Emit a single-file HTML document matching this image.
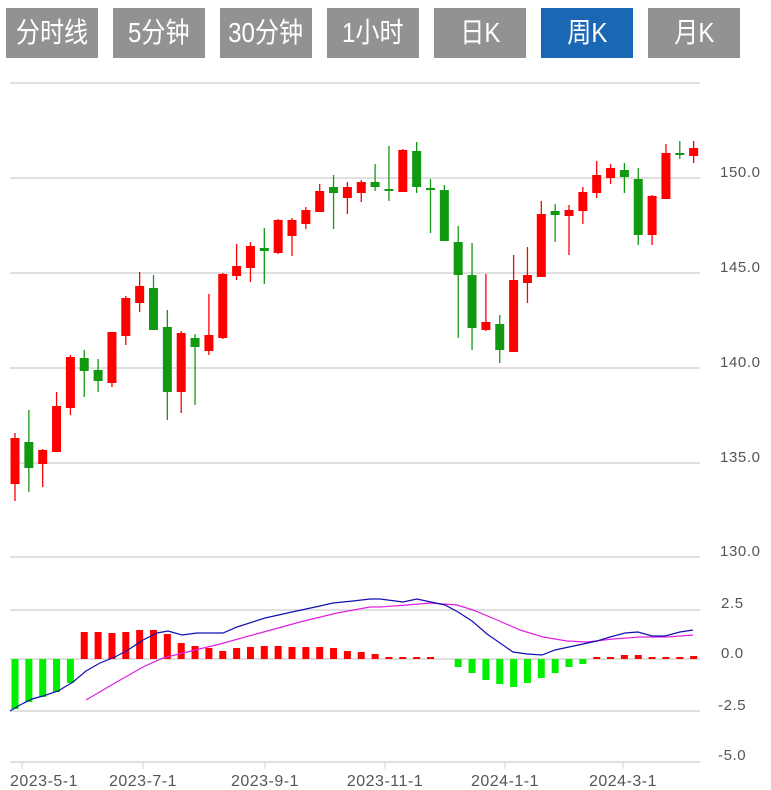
<!DOCTYPE html>
<html><head><meta charset="utf-8"><style>
body{margin:0;background:#fff;width:771px;height:790px;overflow:hidden;font-family:"Liberation Sans","Noto Sans CJK SC",sans-serif}
.b{position:absolute;top:8px;width:92px;height:50px;background:#929292;color:#fff;font-size:28px;line-height:50px;text-align:center;overflow:hidden}
.b span{display:inline-block;transform:scaleX(0.86);white-space:nowrap}
.b.on{background:#1a67b4}
svg{position:absolute;left:0;top:0}
</style></head><body>
<div class="b" style="left:6px"><span>分时线</span></div>
<div class="b" style="left:113px"><span>5分钟</span></div>
<div class="b" style="left:220px"><span>30分钟</span></div>
<div class="b" style="left:327px"><span>1小时</span></div>
<div class="b" style="left:434px"><span>日K</span></div>
<div class="b on" style="left:541px"><span>周K</span></div>
<div class="b" style="left:648px"><span>月K</span></div>
<svg id="s" width="771" height="790" xmlns="http://www.w3.org/2000/svg" font-family="Liberation Sans, sans-serif" font-size="15" fill="#555">
<g stroke="#e0e0e0" stroke-width="2">
<line x1="10" x2="700" y1="83" y2="83"/>
<line x1="10" x2="700" y1="178" y2="178"/>
<line x1="10" x2="700" y1="273" y2="273"/>
<line x1="10" x2="700" y1="368" y2="368"/>
<line x1="10" x2="700" y1="463" y2="463"/>
<line x1="10" x2="700" y1="557" y2="557"/>
<line x1="10" x2="700" y1="610" y2="610"/>
<line x1="10" x2="700" y1="659" y2="659"/>
<line x1="10" x2="700" y1="711" y2="711"/>
<line x1="10" x2="700" y1="762" y2="762"/>
</g>
<g stroke="#ccd6e0" stroke-width="1">
<line x1="22" x2="22" y1="762" y2="769"/><line x1="143" x2="143" y1="762" y2="769"/><line x1="265" x2="265" y1="762" y2="769"/><line x1="385" x2="385" y1="762" y2="769"/><line x1="505" x2="505" y1="762" y2="769"/><line x1="623" x2="623" y1="762" y2="769"/>
</g>
<g letter-spacing="0.6">
<text x="720" y="177">150.0</text>
<text x="720" y="272">145.0</text>
<text x="720" y="367">140.0</text>
<text x="720" y="462">135.0</text>
<text x="720" y="556">130.0</text>
<text x="721" y="608">2.5</text>
<text x="721" y="658">0.0</text>
<text x="718" y="710">-2.5</text>
<text x="718" y="760">-5.0</text>
</g>
<g font-size="16" text-anchor="middle" letter-spacing="0.5">
<text x="44" y="786">2023-5-1</text>
<text x="143" y="786">2023-7-1</text>
<text x="265" y="786">2023-9-1</text>
<text x="385" y="786">2023-11-1</text>
<text x="505" y="786">2024-1-1</text>
<text x="623" y="786">2024-3-1</text>
</g>
<g id="c"></g>
<polyline fill="none" stroke="#e020e0" stroke-width="1.2" points="86,700 115,683 143,667 163,658 187,652 220,644 260,633 300,622 337,613 370,607 380,607 407,605 430,603 457,605 473,610 497,620 520,630 543,637 567,641 587,642 613,639 640,637 667,637 693,635"/>
<polyline fill="none" stroke="#1010b0" stroke-width="1.2" points="10,711 20,705 32,699 43,696 58,691 73,682 86,671 100,663 115,657 128,650 143,640 157,633 168,631 182,635 197,633 223,633 237,627 265,618 292,612 320,606 333,603 353,601 370,599 380,599 403,602 417,599 445,605 458,612 472,621 487,634 500,643 513,652 527,654 542,655 555,650 583,644 597,641 610,637 625,633 638,632 652,636 665,636 680,632 693,630"/>
</svg>
<script>
var C=[
['R',438,484,433,501],['G',442,468,410,492],['R',450,464,449,487],['R',406,452,392,452],['R',357,408,355,415],
['G',358,371,350,397],['G',370,381,359,392],['R',332,383,332,387],['R',298,336,296,345],['R',286,303,272,312],
['G',288,330,275,330],['G',327,392,310,420],['R',333,392,331,413],['G',338,347,334,405],['R',335,351,294,355],
['R',274,338,273,339],['R',266,276,244,280],['R',246,268,242,282],['G',248,251,228,284],['R',220,253,219,254],
['R',220,236,218,256],['R',210,224,207,229],['R',191,212,184,212],['G',187,193,175,229],['R',187,198,182,214],
['R',182,193,180,202],['G',182,187,164,191],['G',189,191,146,201],['R',150,192,149,192],['G',151,187,142,193],
['G',188,190,179,233],['G',190,241,185,241],['G',242,275,226,338],['G',275,328,243,350],['R',322,330,274,331],
['G',324,350,315,363],['R',280,352,255,352],['R',275,283,247,303],['R',214,277,201,277],['G',211,215,204,242],
['R',210,216,205,255],['R',192,211,187,224],['R',175,193,161,198],['R',168,178,164,184],['G',170,177,163,193],
['G',179,235,168,245],['R',196,235,195,245],['R',153,199,144,199],['G',153,155,141,159],['R',148,156,141,163]];
var M=[709,702,697,692,683,632,632,633,632,630,630,634,643,646,648,651,648,647,646,646,647,647,647,648,651,652,654,657,657,658,659,
667,673,680,684,687,683,678,673,667,664,659,658,655,655,658,659,657,656];
var s='';
C.forEach(function(c,i){var x=15+i*13.85,col=c[0]=='R'?'#ff0000':'#129912';
s+='<line x1="'+x+'" x2="'+x+'" y1="'+c[3]+'" y2="'+c[4]+'" stroke="'+col+'" stroke-width="1.3"/>';
s+='<rect x="'+(x-4.5)+'" y="'+c[1]+'" width="9" height="'+Math.max(2,c[2]-c[1])+'" fill="'+col+'"/>';});
var idx=[];for(var i=0;i<31;i++)idx.push(i);for(i=32;i<50;i++)idx.push(i);
idx.forEach(function(i,k){var v=M[k],x=15+i*13.85;var g=(i<5)||(i>=32&&i<=41);
var y1=g?659:Math.min(v,657),y2=g?v:659;if(y2-y1<2){y1=657;y2=659;}
s+='<rect x="'+(x-3.5)+'" y="'+y1+'" width="7" height="'+(y2-y1)+'" fill="'+(g?'#00ee00':'#ff0000')+'"/>';});
document.getElementById('c').innerHTML=s;
</script>
</body></html>
